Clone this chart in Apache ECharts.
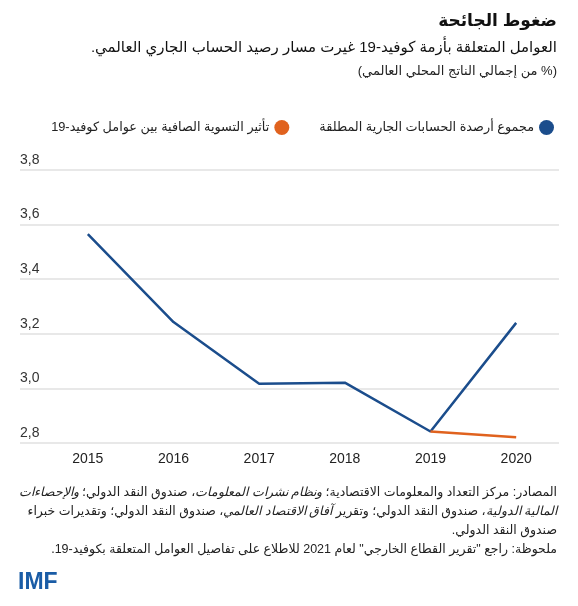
<!DOCTYPE html>
<html>
<head>
<meta charset="utf-8">
<script src="https://cdn.jsdelivr.net/npm/echarts@6/dist/echarts.min.js"></script>
<style>
  html, body { margin: 0; padding: 0; background: #fff; }
  #chart { width: 578px; height: 606px; direction: rtl; }
</style>
</head>
<body>
<div id="chart" dir="rtl"></div>
<script>
// ---- data ----
const years = ['2015', '2016', '2017', '2018', '2019', '2020'];
const totalAbsoluteBalances = [3.565, 3.243, 3.017, 3.021, 2.842, 3.240];
const netCovidEffect = [null, null, null, null, 2.842, 2.821];
const seriesNames = ['مجموع أرصدة الحسابات الجارية المطلقة', 'تأثير التسوية الصافية بين عوامل كوفيد-19'];
const yMin = 2.8, yMax = 3.8, yStep = 0.2;

const titleText = 'ضغوط الجائحة';
const subtitleText = 'العوامل المتعلقة بأزمة كوفيد-19 غيرت مسار رصيد الحساب الجاري العالمي.';
const unitText = '(% من إجمالي الناتج المحلي العالمي)';
// footnote lines, segments in logical (reading) order; i = italic
const footLines = [
  [['n', 'المصادر: مركز التعداد والمعلومات الاقتصادية؛ '], ['i', 'ونظام نشرات المعلومات'], ['n', '، صندوق النقد الدولي؛ '], ['i', 'والإحصاءات']],
  [['i', 'المالية الدولية'], ['n', '، صندوق النقد الدولي؛ وتقرير '], ['i', 'آفاق الاقتصاد العالمي'], ['n', '، صندوق النقد الدولي؛ وتقديرات خبراء']],
  [['n', 'صندوق النقد الدولي.']],
  [['n', 'ملحوظة: راجع "تقرير القطاع الخارجي" لعام 2021 للاطلاع على تفاصيل العوامل المتعلقة بكوفيد-19.']]
];

const FONT = '"Liberation Sans", Arial, "DejaVu Sans", sans-serif';
const BLUE = '#1b4d8c';
const ORANGE = '#e0621e';

const chart = echarts.init(document.getElementById('chart'));

function escRich(s) { return s.replace(/[{}|]/g, ''); }
// build rich text in visual (left-to-right) order for RTL lines
function richLine(segs) {
  return segs.slice().reverse().map(s => '{' + s[0] + '|' + escRich(s[1]) + '}').join('');
}

const footY = [493, 512, 531, 550];
const footGraphics = footLines.map((segs, k) => ({
  type: 'text',
  x: 557, y: footY[k],
  style: {
    text: richLine(segs),
    textAlign: 'right',
    textVerticalAlign: 'middle',
    fill: '#222',
    rich: {
      n: { fontSize: 12.5, fontFamily: FONT, fill: '#222' },
      i: { fontSize: 12.5, fontFamily: FONT, fontStyle: 'italic', fill: '#222' }
    }
  }
}));

const option = {
  animation: false,
  backgroundColor: '#fff',
  textStyle: { fontFamily: FONT },
  graphic: [
    { type: 'text', x: 557, y: 21, style: { text: titleText, textAlign: 'right', textVerticalAlign: 'middle', fontSize: 17, fontWeight: 'bold', fontFamily: FONT, fill: '#111' } },
    { type: 'text', x: 557, y: 48, style: { text: subtitleText, textAlign: 'right', textVerticalAlign: 'middle', fontSize: 15, fontFamily: FONT, fill: '#111' } },
    { type: 'text', x: 557, y: 71, style: { text: unitText, textAlign: 'right', textVerticalAlign: 'middle', fontSize: 13, fontFamily: FONT, fill: '#222' } },
    ...footGraphics,
    { type: 'text', x: 18, y: 583, style: { text: 'IMF', textAlign: 'left', textVerticalAlign: 'middle', fontSize: 23, fontWeight: 'bold', fontFamily: FONT, fill: '#1a5ca6' } }
  ],
  legend: {
    data: [seriesNames[1], seriesNames[0]],
    right: 19,
    top: 115,
    align: 'right',
    icon: 'circle',
    itemWidth: 15,
    itemHeight: 15,
    itemGap: 30,
    textStyle: { fontSize: 12.8, color: '#222', fontFamily: FONT }
  },
  grid: [
    { left: 20, right: 19, top: 170, bottom: 163 },
    { left: 45, right: 19, top: 170, bottom: 163 }
  ],
  xAxis: [
    { type: 'category', gridIndex: 0, data: years, show: false },
    {
      type: 'category', gridIndex: 1, data: years, boundaryGap: true,
      axisLine: { show: false }, axisTick: { show: false },
      axisLabel: { fontSize: 14, color: '#222', margin: 9, fontFamily: FONT }
    }
  ],
  yAxis: [
    {
      type: 'value', gridIndex: 0, min: yMin, max: yMax, interval: yStep,
      axisLine: { show: false }, axisTick: { show: false },
      splitLine: { show: true, lineStyle: { color: '#e0e0e0', width: 1.5 } },
      axisLabel: {
        inside: true, margin: 0, align: 'left', verticalAlign: 'bottom',
        fontSize: 14, color: '#333', fontFamily: FONT, padding: [0, 0, 3, 0],
        formatter: v => v.toFixed(1).replace('.', ',')
      }
    },
    { type: 'value', gridIndex: 1, min: yMin, max: yMax, interval: yStep, show: false, splitLine: { show: false } }
  ],
  series: [
    {
      name: seriesNames[0], type: 'line', xAxisIndex: 1, yAxisIndex: 1,
      data: totalAbsoluteBalances, symbol: 'none', color: BLUE,
      lineStyle: { width: 2.5, color: BLUE }, z: 2
    },
    {
      name: seriesNames[1], type: 'line', xAxisIndex: 1, yAxisIndex: 1,
      data: netCovidEffect, symbol: 'none', color: ORANGE,
      lineStyle: { width: 2.5, color: ORANGE }, z: 3
    }
  ]
};
chart.setOption(option);
</script>
</body>
</html>
